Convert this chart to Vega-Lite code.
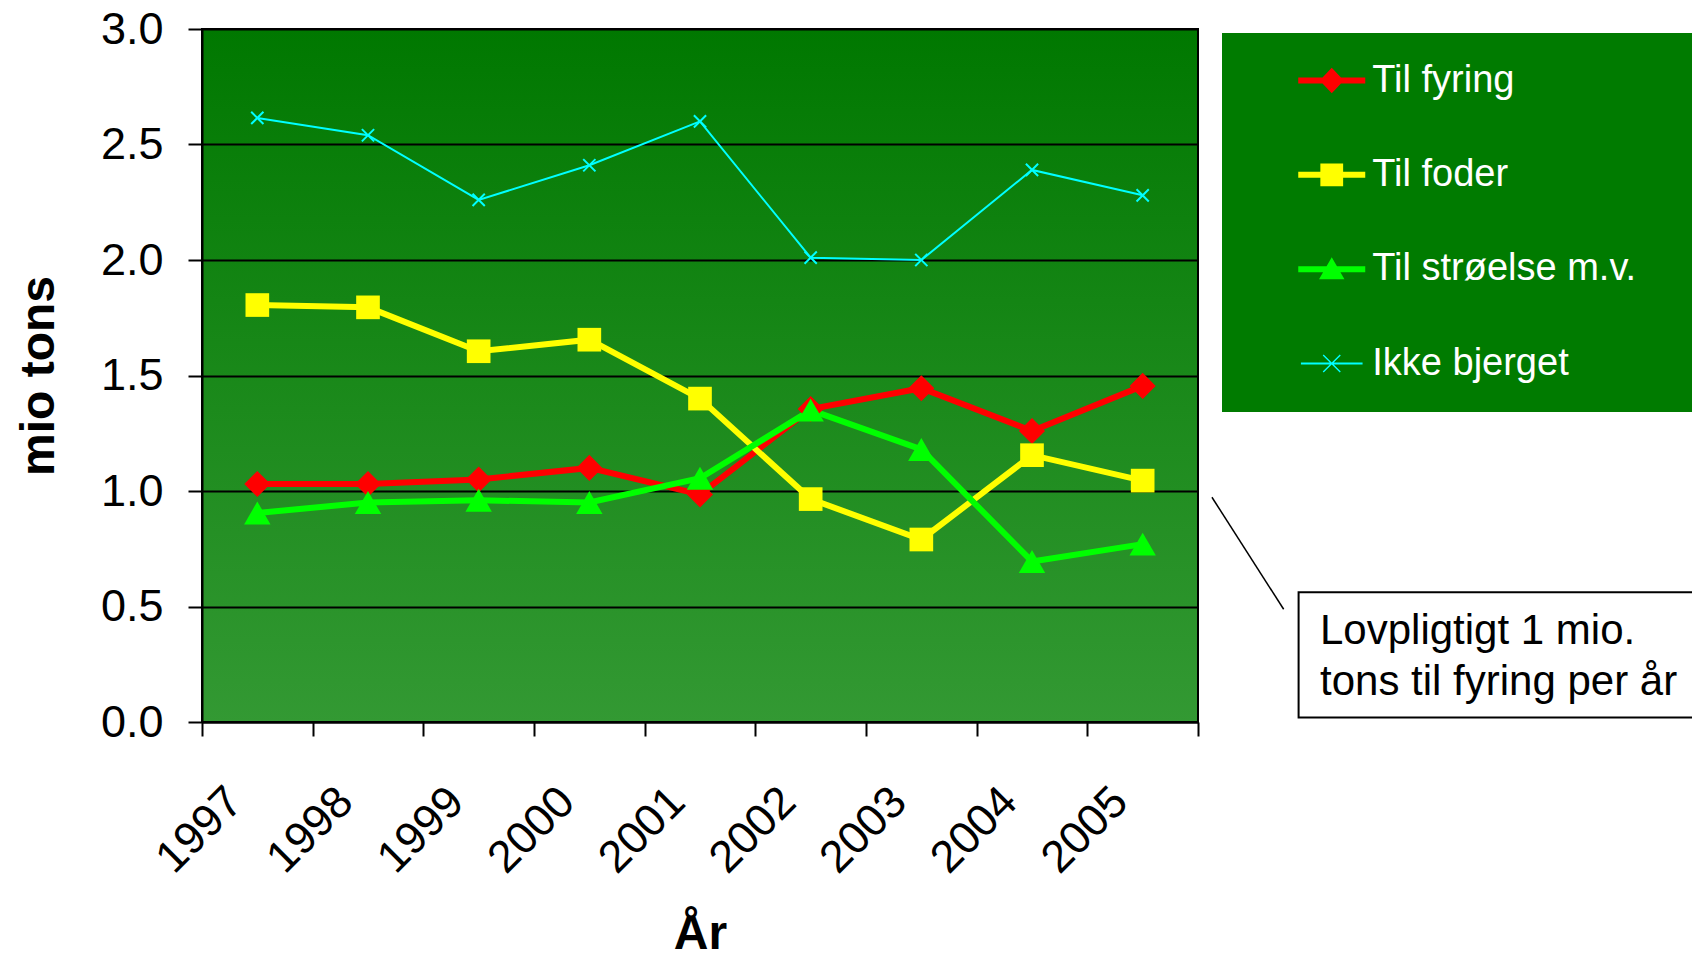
{
  "$schema": "https://vega.github.io/schema/vega-lite/v6.json",
  "description": "Halm: anvendelse 1997-2005",
  "width": 996,
  "height": 693,
  "autosize": {"type": "none"},
  "padding": {"left": 202, "top": 29, "right": 494, "bottom": 236},
  "background": "white",
  "config": {
    "font": "Liberation Sans",
    "view": {
      "fill": {"gradient": "linear", "x1": 0, "y1": 0, "x2": 0, "y2": 1,
        "stops": [{"offset": 0, "color": "#007800"}, {"offset": 1, "color": "#339933"}]},
      "stroke": "black",
      "strokeWidth": 2
    },
    "axis": {
      "labelColor": "black",
      "labelFontSize": 45,
      "tickColor": "black",
      "tickWidth": 2,
      "tickSize": 14,
      "domainColor": "black",
      "domainWidth": 2,
      "titleColor": "black",
      "titleFontSize": 48,
      "titleFontWeight": "bold",
      "labelOverlap": false
    },
    "legend": {
      "orient": "none",
      "legendX": 1020,
      "legendY": 4,
      "titleOrient": "right",
      "titlePadding": 95,
      "fillColor": "#007b00",
      "padding": 28.25,
      "clipHeight": 38.5,
      "rowPadding": 55.35,
      "symbolSize": 4489,
      "symbolOffset": 48,
      "symbolStrokeWidth": 0,
      "symbolOpacity": 1,
      "labelOffset": 7,
      "labelColor": "white",
      "labelFontSize": 38,
      "labelLimit": 600
    }
  },
  "datasets": {
    "hay": [
      {"year": "1997", "serie": "Til fyring", "value": 1.03},
      {"year": "1998", "serie": "Til fyring", "value": 1.03},
      {"year": "1999", "serie": "Til fyring", "value": 1.05},
      {"year": "2000", "serie": "Til fyring", "value": 1.1},
      {"year": "2001", "serie": "Til fyring", "value": 0.985},
      {"year": "2002", "serie": "Til fyring", "value": 1.355},
      {"year": "2003", "serie": "Til fyring", "value": 1.445},
      {"year": "2004", "serie": "Til fyring", "value": 1.26},
      {"year": "2005", "serie": "Til fyring", "value": 1.455},
      {"year": "1997", "serie": "Til foder", "value": 1.805},
      {"year": "1998", "serie": "Til foder", "value": 1.795},
      {"year": "1999", "serie": "Til foder", "value": 1.605},
      {"year": "2000", "serie": "Til foder", "value": 1.655},
      {"year": "2001", "serie": "Til foder", "value": 1.4},
      {"year": "2002", "serie": "Til foder", "value": 0.965},
      {"year": "2003", "serie": "Til foder", "value": 0.79},
      {"year": "2004", "serie": "Til foder", "value": 1.155},
      {"year": "2005", "serie": "Til foder", "value": 1.045},
      {"year": "1997", "serie": "Til strøelse m.v.", "value": 0.905},
      {"year": "1998", "serie": "Til strøelse m.v.", "value": 0.95},
      {"year": "1999", "serie": "Til strøelse m.v.", "value": 0.96},
      {"year": "2000", "serie": "Til strøelse m.v.", "value": 0.95},
      {"year": "2001", "serie": "Til strøelse m.v.", "value": 1.055},
      {"year": "2002", "serie": "Til strøelse m.v.", "value": 1.35},
      {"year": "2003", "serie": "Til strøelse m.v.", "value": 1.18},
      {"year": "2004", "serie": "Til strøelse m.v.", "value": 0.695},
      {"year": "2005", "serie": "Til strøelse m.v.", "value": 0.77},
      {"year": "1997", "serie": "Ikke bjerget", "value": 2.615},
      {"year": "1998", "serie": "Ikke bjerget", "value": 2.54},
      {"year": "1999", "serie": "Ikke bjerget", "value": 2.26},
      {"year": "2000", "serie": "Ikke bjerget", "value": 2.41},
      {"year": "2001", "serie": "Ikke bjerget", "value": 2.6},
      {"year": "2002", "serie": "Ikke bjerget", "value": 2.01},
      {"year": "2003", "serie": "Ikke bjerget", "value": 2.0},
      {"year": "2004", "serie": "Ikke bjerget", "value": 2.39},
      {"year": "2005", "serie": "Ikke bjerget", "value": 2.28}
    ],
    "note": [
      {"kind": "leader", "ax": 1.014, "ax2": 1.086, "value": 0.973, "value2": 0.488},
      {"kind": "box", "ax": 1.101, "ax2": 1.6, "value": 0.5615, "value2": 0.02},
      {"kind": "text", "ax": 1.1225, "value": 0.338, "label": "Lovpligtigt 1 mio."},
      {"kind": "text", "ax": 1.1225, "value": 0.117, "label": "tons til fyring per år"}
    ]
  },
  "encoding": {
    "y": {
      "field": "value", "type": "quantitative",
      "scale": {"domain": [0, 3], "nice": false, "zero": true},
      "axis": {
        "title": "mio tons",
        "values": [0, 0.5, 1, 1.5, 2, 2.5, 3],
        "format": ".1f",
        "labelPadding": 25,
        "labelFlush": false,
        "grid": true,
        "gridColor": "black",
        "gridWidth": 2,
        "gridOpacity": 1,
        "titlePadding": 37
      }
    }
  },
  "layer": [
    {
      "data": {"name": "hay"},
      "encoding": {
        "x": {
          "field": "year", "type": "ordinal",
          "scale": {"type": "band", "paddingInner": 0, "paddingOuter": 0},
          "axis": {
            "title": "År",
            "labelAngle": -45,
            "labelAlign": "right",
            "labelBaseline": "alphabetic",
            "labelPadding": 68,
            "labelOffset": -13,
            "tickBand": "extent",
            "grid": false,
            "titlePadding": 29
          }
        }
      },
      "layer": [
        {
          "mark": {"type": "point", "filled": true, "opacity": 0},
          "encoding": {
            "color": {
              "field": "serie", "type": "nominal",
              "scale": {
                "domain": ["Til fyring", "Til foder", "Til strøelse m.v.", "Ikke bjerget"],
                "range": ["#ff0000", "#ffff00", "#00ff00", "#00ffff"]
              },
              "legend": {"title": " "}
            },
            "shape": {
              "field": "serie", "type": "nominal",
              "scale": {
                "domain": ["Til fyring", "Til foder", "Til strøelse m.v.", "Ikke bjerget"],
                "range": [
                  "M-1,-0.09H1V0.09H-1ZM-0.36,0L0,-0.38L0.36,0L0,0.38Z",
                  "M-1,-0.09H1V0.09H-1ZM-0.34,-0.34H0.34V0.34H-0.34Z",
                  "M-1,-0.09H1V0.09H-1ZM0,-0.36L0.38,0.3H-0.38Z",
                  "M-0.92,-0.03H0.92V0.03H-0.92ZM-0.24,-0.27L0.27,0.24L0.24,0.27L-0.27,-0.24ZM0.24,-0.27L0.27,-0.24L-0.24,0.27L-0.27,0.24Z"
                ]
              },
              "legend": {"title": " "}
            }
          }
        },
        {
          "transform": [{"filter": "datum.serie !== 'Ikke bjerget'"}],
          "mark": {"type": "line", "strokeWidth": 6},
          "encoding": {
            "color": {"field": "serie", "type": "nominal"}
          }
        },
        {
          "transform": [{"filter": "datum.serie === 'Ikke bjerget'"}],
          "mark": {"type": "line", "strokeWidth": 2},
          "encoding": {
            "color": {"field": "serie", "type": "nominal"}
          }
        },
        {
          "transform": [{"filter": "datum.serie === 'Til fyring'"}],
          "mark": {"type": "point", "filled": true, "opacity": 1, "shape": "diamond", "size": 680},
          "encoding": {
            "color": {"field": "serie", "type": "nominal"}
          }
        },
        {
          "transform": [{"filter": "datum.serie === 'Til foder'"}],
          "mark": {"type": "point", "filled": true, "opacity": 1, "shape": "square", "size": 560},
          "encoding": {
            "color": {"field": "serie", "type": "nominal"}
          }
        },
        {
          "transform": [{"filter": "datum.serie === 'Til strøelse m.v.'"}],
          "mark": {"type": "point", "filled": true, "opacity": 1, "shape": "triangle-up", "size": 700},
          "encoding": {
            "color": {"field": "serie", "type": "nominal"}
          }
        },
        {
          "transform": [{"filter": "datum.serie === 'Ikke bjerget'"}],
          "mark": {
            "type": "point", "filled": false, "opacity": 1, "size": 150,
            "strokeWidth": 2,
            "shape": "M-1,-1L1,1M-1,1L1,-1"
          },
          "encoding": {
            "color": {"field": "serie", "type": "nominal"}
          }
        }
      ]
    },
    {
      "data": {"name": "note"},
      "encoding": {
        "x": {"field": "ax", "type": "quantitative", "scale": {"domain": [0, 1], "nice": false, "zero": false}, "axis": null}
      },
      "layer": [
        {
          "transform": [{"filter": "datum.kind === 'leader'"}],
          "mark": {"type": "rule", "color": "black", "strokeWidth": 1.5},
          "encoding": {
            "x2": {"field": "ax2"},
            "y2": {"field": "value2"}
          }
        },
        {
          "transform": [{"filter": "datum.kind === 'box'"}],
          "mark": {"type": "rect", "fill": "white", "stroke": "black", "strokeWidth": 2},
          "encoding": {
            "x2": {"field": "ax2"},
            "y2": {"field": "value2"}
          }
        },
        {
          "transform": [{"filter": "datum.kind === 'text'"}],
          "mark": {"type": "text", "align": "left", "baseline": "alphabetic", "fontSize": 42, "color": "black"},
          "encoding": {
            "text": {"field": "label"}
          }
        }
      ]
    }
  ],
  "resolve": {"scale": {"x": "independent"}}
}
